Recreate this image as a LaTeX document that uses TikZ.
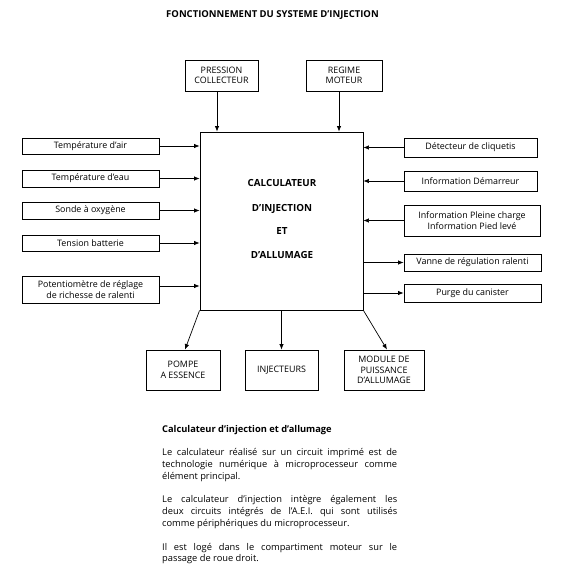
\documentclass[tikz,border=0pt]{standalone}
\usepackage{fontspec}
\setmainfont{Open Sans}
\usetikzlibrary{arrows.meta}
\begin{document}
\begin{tikzpicture}[x=1pt,y=-1pt,
  box/.style={draw, line width=0.9pt, inner sep=0pt, align=center, font=\fontsize{8.9}{10.6}\selectfont},
  arr/.style={line width=0.7pt, -{Latex[length=5.5pt,width=4.5pt]}},
  maintxt/.style={anchor=base, inner sep=0pt, font=\bfseries\fontsize{9.8}{11}\selectfont},
  para/.style={anchor=base west, inner sep=0pt, font=\fontsize{9.3}{11}\selectfont}
]
\useasboundingbox (0,0) rectangle (567,583);
\fill[white] (0,0) rectangle (567,583);

\node[anchor=base, inner sep=0pt, font=\bfseries\fontsize{9.5}{11}\selectfont] (title) at (272.5,17.5) {FONCTIONNEMENT DU SYSTEME D'INJECTION};

% main box
\node[draw, line width=0.9pt, minimum width=163pt, minimum height=178pt, inner sep=0pt] (main) at (281.5,221) {};
\node[maintxt] (m1) at (282,186) {CALCULATEUR};
\node[maintxt] (m2) at (282,211) {D'INJECTION};
\node[maintxt] (m3) at (282,234) {ET};
\node[maintxt] (m4) at (282,258) {D'ALLUMAGE};

% top boxes
\node[box, minimum width=73pt, minimum height=31pt] (press) at (221.5,75.5) {PRESSION\\COLLECTEUR};
\node[box, minimum width=76pt, minimum height=31pt] (regime) at (344,75.5) {REGIME\\MOTEUR};

% left boxes
\node[box, minimum width=137pt, minimum height=16pt] (air) at (90.5,146) {Température d'air};
\node[box, minimum width=137pt, minimum height=17pt] (eau) at (90.5,178.5) {Température d'eau};
\node[box, minimum width=137pt, minimum height=17pt] (sonde) at (90.5,210.5) {Sonde à oxygène};
\node[box, minimum width=137pt, minimum height=16pt] (tension) at (90.5,243) {Tension batterie};
\node[box, minimum width=137pt, minimum height=27pt] (pot) at (90.5,289.5) {Potentiomètre de réglage\\de richesse de ralenti};

% right boxes
\node[box, minimum width=133pt, minimum height=19pt] (det) at (470.5,147.5) {Détecteur de cliquetis};
\node[box, minimum width=133pt, minimum height=20pt] (dem) at (470.5,181) {Information Démarreur};
\node[box, minimum width=136pt, minimum height=31pt] (pleine) at (472,220.5) {Information Pleine charge\\Information Pied levé};
\node[box, minimum width=137pt, minimum height=17pt] (vanne) at (472.5,262.5) {Vanne de régulation ralenti};
\node[box, minimum width=137pt, minimum height=18pt] (purge) at (472.5,293) {Purge du canister};

% bottom boxes
\node[box, minimum width=74pt, minimum height=40pt] (pompe) at (183,370) {POMPE\\A ESSENCE};
\node[box, minimum width=73pt, minimum height=40pt] (inj) at (281.5,370) {INJECTEURS};
\node[box, minimum width=80pt, minimum height=40pt] (module) at (384,370) {MODULE DE\\PUISSANCE\\D'ALLUMAGE};

% connectors top
\draw[arr] ([xshift=-4.5pt]press.south) -- ([xshift=-4.5pt]press.south |- main.north);
\draw[arr] ([xshift=-5pt]regime.south) -- ([xshift=-5pt]regime.south |- main.north);

% connectors left
\draw[arr] (air.east) -- (air.east -| main.west);
\draw[arr] (eau.east) -- (eau.east -| main.west);
\draw[arr] (sonde.east) -- (sonde.east -| main.west);
\draw[arr] (tension.east) -- (tension.east -| main.west);
\draw[arr] ([yshift=3.5pt]pot.east) -- ([yshift=3.5pt]pot.east -| main.west);

% connectors right
\draw[arr] (det.west) -- (det.west -| main.east);
\draw[arr] (dem.west) -- (dem.west -| main.east);
\draw[arr] (pleine.west) -- (pleine.west -| main.east);
\draw[arr] (vanne.west -| main.east) -- (vanne.west);
\draw[arr] (purge.west -| main.east) -- (purge.west);

% connectors bottom
\draw[arr] (main.south west) -- ([xshift=2pt]pompe.north);
\draw[arr] (inj.north |- main.south) -- (inj.north);
\draw[arr] (main.south east) -- ([xshift=3pt]module.north);

% text
\node[para, font=\bfseries\fontsize{9.3}{11}\selectfont] (h) at (162,432) {Calculateur d'injection et d'allumage};
\node[para] (a1) at (162,455.6) {\makebox[235pt][s]{Le calculateur réalisé sur un circuit imprimé est de}};
\node[para] (a2) at (162,467.4) {\makebox[235pt][s]{technologie numérique à microprocesseur comme}};
\node[para] (a3) at (162,479.2) {élément principal.};
\node[para] (b1) at (162,502.8) {\makebox[235pt][s]{Le calculateur d'injection intègre également les}};
\node[para] (b2) at (162,514.6) {\makebox[235pt][s]{deux circuits intégrés de l'A.E.I. qui sont utilisés}};
\node[para] (b3) at (162,526.4) {comme périphériques du microprocesseur.};
\node[para] (c1) at (162,550) {\makebox[235pt][s]{Il est logé dans le compartiment moteur sur le}};
\node[para] (c2) at (162,561.8) {passage de roue droit.};
\end{tikzpicture}
\end{document}
